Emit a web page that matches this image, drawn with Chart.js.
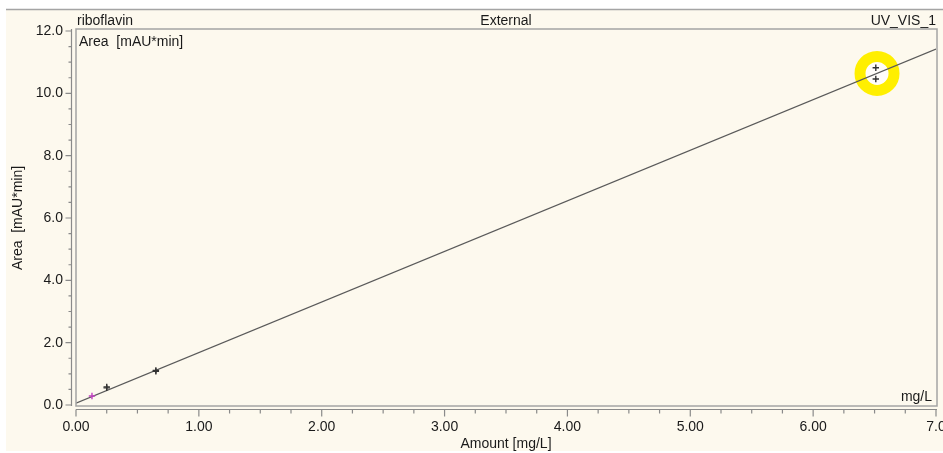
<!DOCTYPE html>
<html>
<head>
<meta charset="utf-8">
<script src="https://cdn.jsdelivr.net/npm/chart.js@4.4.1/dist/chart.umd.min.js"></script>
<style>
  html, body { margin: 0; padding: 0; background: #fff; }
</style>
</head>
<body>
<canvas id="mycanvas" width="943" height="453"></canvas>
<script>
// calibration points
var amounts = [0.13, 0.25, 0.25, 0.65, 0.65, 6.51, 6.51];
var areas   = [0.29, 0.55, 0.58, 1.08, 1.11, 10.82, 10.46];
var pointColors = ['#c040c0', '#333', '#333', '#333', '#333', '#333', '#333'];

// calibration line
var fitX = [0, 7];
var fitY = [0.06, 11.42];

// highlighted point (yellow ring)
var markX = [6.52];
var markY = [10.64];

var xTickLabels = ['0.00', '1.00', '2.00', '3.00', '4.00', '5.00', '6.00', '7.0'];
var yTickLabels = ['0.0', '2.0', '4.0', '6.0', '8.0', '10.0', '12.0'];

var cream = '#fdf9ee';
var gray = '#a4a4a4';
var font = '14px "Liberation Sans", Arial, sans-serif';

var points = [];
for (var i in amounts) {
  points.push({x: amounts[i], y: areas[i]});
}
var line = [];
for (var i in fitX) {
  line.push({x: fitX[i], y: fitY[i]});
}
var mark = [];
for (var i in markX) {
  mark.push({x: markX[i], y: markY[i]});
}

var framePlugin = {
  id: 'frame',
  beforeDraw: function(chart) {
    var c = chart.ctx;
    c.save();
    c.fillStyle = '#fff';
    c.fillRect(0, 0, chart.width, chart.height);
    c.fillStyle = cream;
    c.fillRect(6, 9, chart.width - 6, 442);
    c.strokeStyle = gray;
    c.lineWidth = 1.5;
    c.beginPath();
    c.moveTo(6, 9.5);
    c.lineTo(chart.width, 9.5);
    c.stroke();
    c.restore();
  },
  afterDraw: function(chart) {
    var c = chart.ctx;
    var a = chart.chartArea;
    var xs = chart.scales.x, ys = chart.scales.y;
    c.save();
    c.strokeStyle = gray;
    c.lineWidth = 1.5;
    // plot frame
    c.strokeRect(a.left, a.top - 2, a.right - a.left + 1, a.bottom - a.top + 3);

    // y axis line + ticks
    var yx = a.left - 4.5;
    c.strokeStyle = '#8a8a8a';
    c.lineWidth = 1.2;
    c.beginPath();
    c.moveTo(yx, a.top - 2);
    c.lineTo(yx, a.bottom + 1);
    for (var v = 0; v <= 12; v += 0.5) {
      var py = ys.getPixelForValue(v);
      var len = (v % 2 === 0) ? 6 : 3;
      c.moveTo(yx, py);
      c.lineTo(yx - len, py);
    }
    // x axis line + ticks
    var xy = a.bottom + 4.5;
    c.moveTo(a.left, xy);
    c.lineTo(a.right + 1, xy);
    for (var v = 0; v <= 7; v += 0.25) {
      var px = xs.getPixelForValue(v);
      var len = (v % 1 === 0) ? 7 : 4;
      c.moveTo(px, xy);
      c.lineTo(px, xy + len);
    }
    c.stroke();

    // header and inner texts
    c.fillStyle = '#1a1a1a';
    c.font = font;
    c.textBaseline = 'alphabetic';
    c.textAlign = 'left';
    c.fillText('riboflavin', a.left + 1, 25);
    c.textAlign = 'center';
    c.fillText('External', (a.left + a.right) / 2, 25);
    c.textAlign = 'right';
    c.fillText('UV_VIS_1', a.right, 25);
    c.textAlign = 'left';
    c.fillText('Area  [mAU*min]', a.left + 3, 46);
    c.textAlign = 'right';
    c.fillText('mg/L', a.right - 4, 401);
    c.restore();
  }
};

var ctx = document.getElementById('mycanvas');

var chart = new Chart(ctx, {
  type: 'scatter',
  data: {
    datasets: [
      {
        label: 'Standards',
        data: points,
        pointStyle: 'cross',
        pointRadius: 3.2,
        pointBorderWidth: 1.4,
        pointBorderColor: pointColors,
        pointBackgroundColor: pointColors
      },
      {
        label: 'Fit',
        type: 'line',
        data: line,
        borderColor: '#5a5a5a',
        borderWidth: 1.2,
        pointRadius: 0,
        fill: false
      },
      {
        label: 'Mark',
        data: mark,
        pointStyle: 'circle',
        pointRadius: 17,
        pointBorderWidth: 11,
        pointBorderColor: '#ffef00',
        pointBackgroundColor: 'rgba(255,255,255,0.7)'
      }
    ]
  },
  options: {
    responsive: false,
    animation: false,
    layout: { autoPadding: false, padding: { left: 0, top: 31, right: 7, bottom: 0 } },
    plugins: {
      legend: { display: false },
      tooltip: { enabled: false }
    },
    scales: {
      x: {
        type: 'linear',
        min: 0,
        max: 7,
        grid: { display: false, drawTicks: false },
        border: { display: false },
        ticks: {
          stepSize: 1,
          padding: 14,
          maxRotation: 0,
          color: '#1a1a1a',
          font: { family: '"Liberation Sans", Arial, sans-serif', size: 14 },
          callback: function(v, i) { return xTickLabels[i]; }
        },
        title: {
          display: true,
          text: 'Amount [mg/L]',
          color: '#1a1a1a',
          padding: { top: 0, bottom: 0 },
          font: { family: '"Liberation Sans", Arial, sans-serif', size: 14 }
        },
        afterFit: function(s) {
          s.height = 48;
          s.paddingLeft = 0;
          s.paddingRight = 0;
        }
      },
      y: {
        type: 'linear',
        min: 0,
        max: 12,
        grid: { display: false, drawTicks: false },
        border: { display: false },
        ticks: {
          stepSize: 2,
          padding: 13,
          color: '#1a1a1a',
          font: { family: '"Liberation Sans", Arial, sans-serif', size: 14 },
          callback: function(v, i) { return yTickLabels[i]; }
        },
        title: {
          display: true,
          text: 'Area  [mAU*min]',
          color: '#1a1a1a',
          padding: { top: 10, bottom: 0 },
          font: { family: '"Liberation Sans", Arial, sans-serif', size: 14 }
        },
        afterFit: function(s) {
          s.width = 76;
          s.paddingTop = 0;
          s.paddingBottom = 0;
        }
      }
    }
  },
  plugins: [framePlugin]
});
</script>
</body>
</html>
